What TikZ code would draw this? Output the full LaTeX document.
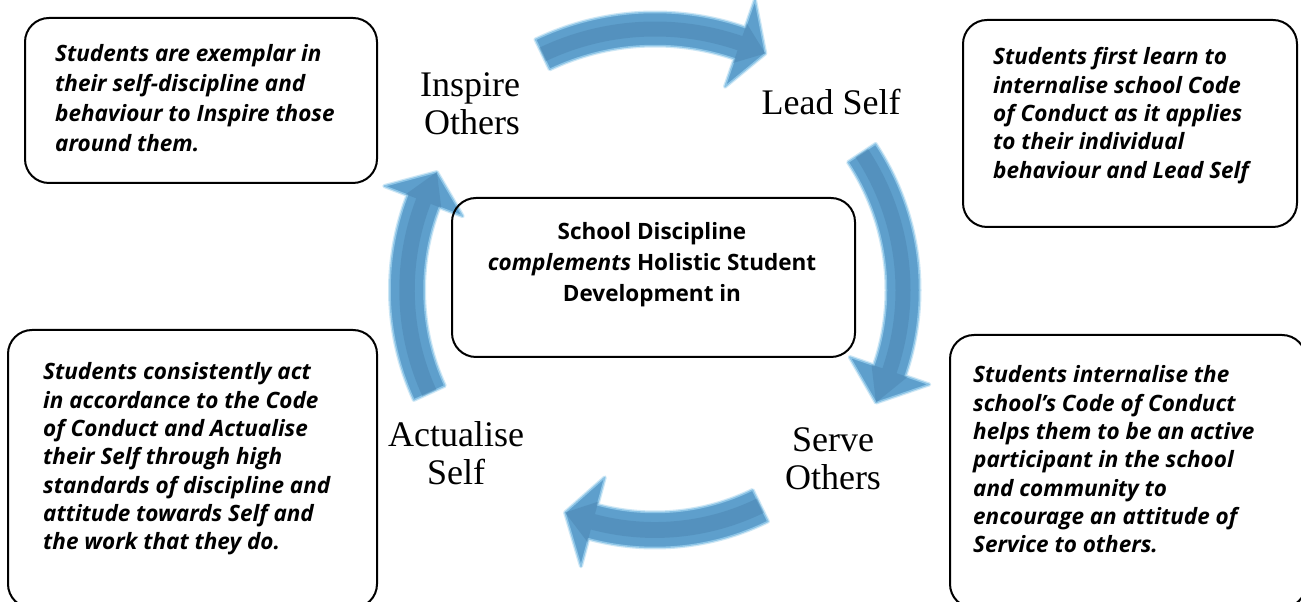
\documentclass[tikz,border=0pt]{standalone}
\usepackage{fontspec}
\setmainfont{Liberation Serif}
\newfontfamily\boxfont{Open Sans}
\definecolor{arrowbody}{HTML}{5E9FCC}
\definecolor{arrowedge}{HTML}{8CC4E6}
\definecolor{arrowhalo}{HTML}{B9DDF2}
\definecolor{arrowcore}{HTML}{4A82AD}
\newcommand\cycarrow[7]{%
  \path[#7] ({#3}:{(#1+#2)*1pt}) arc[start angle={#3}, end angle={#4}, radius={(#1+#2)*1pt}]
    -- ({#4}:{(#1+#6)*1pt}) -- ({#5}:{#1*1pt}) -- ({#4}:{(#1-#6)*1pt})
    -- ({#4}:{(#1-#2)*1pt}) arc[start angle={#4}, end angle={#3}, radius={(#1-#2)*1pt}] -- cycle;}
\newcommand\fullarrow[6]{%
  \cycarrow{#1}{#2}{#3}{#4}{#5}{#6}{draw=arrowhalo, line width=4pt, line join=round, opacity=.7}
  \cycarrow{#1}{#2}{#3}{#4}{#5}{#6}{fill=arrowbody, draw=arrowedge, line width=1.5pt, line join=round}
  \cycarrow{#1}{#2/2.2}{#3}{#4}{#5}{#6/2.2}{fill=arrowcore, opacity=.45}}
\tikzset{
  txtbox/.style={draw, line width=2pt, rounded corners=24pt},
  lbl/.style={anchor=base, inner sep=0pt, font=\fontsize{36}{38}\selectfont},
  btxt/.style={anchor=base west, inner sep=0pt, font=\boxfont\bfseries\itshape\fontsize{22.5}{28}\selectfont},
  ctxt/.style={anchor=base, inner sep=0pt, font=\boxfont\bfseries\fontsize{22.5}{31}\selectfont}
}
\begin{document}
\begin{tikzpicture}[x=1pt,y=1pt]
\useasboundingbox (0,0) rectangle (1301,602);
\clip (0,0) rectangle (1301,602);
\fill[white] (0,0) rectangle (1301,602);
% arrows
\begin{scope}[shift={(655,312)}]
  \fullarrow{261}{16.5}{115.5}{71}{65}{46}
  \fullarrow{248}{16.5}{33.5}{-19}{-27}{42}
  \fullarrow{240}{17.5}{-64}{-105}{-112}{46}
  \fullarrow{248}{17}{-155.5}{-201}{-208.4}{42}
\end{scope}
% boxes
\draw[txtbox] (25,584) rectangle (377,419);
\draw[txtbox] (963,582) rectangle (1297,375);
\draw[txtbox] (452,404) rectangle (855,245);
\draw[txtbox] (8,272) rectangle (377,-6);
\draw[txtbox] (950,267) rectangle (1306,-6);
\node[draw=none, inner sep=0pt] (tlbox) at (201,501) {};
\node[draw=none, inner sep=0pt] (trbox) at (1130,478) {};
\node[draw=none, inner sep=0pt] (cbox) at (653,324) {};
\node[draw=none, inner sep=0pt] (blbox) at (192,133) {};
\node[draw=none, inner sep=0pt] (brbox) at (1128,130) {};
% box texts
\foreach \t [count=\i] in {Students are exemplar in, their self-discipline and, behaviour to Inspire those, around them.}
  \node[btxt] (tl\i) at (55,{570-30*\i}) {\t};
\foreach \t [count=\i] in {Students first learn to, internalise school Code, of Conduct as it applies, to their individual, behaviour and Lead Self}
  \node[btxt] (tr\i) at (993,{565.3-28.3*\i}) {\t};
\foreach \t [count=\i] in {Students consistently act, in accordance to the Code, of Conduct and Actualise, their Self through high, standards of discipline and, attitude towards Self and, the work that they do.}
  \node[btxt] (bl\i) at (43,{250.3-28.3*\i}) {\t};
\foreach \t [count=\i] in {Students internalise the, school’s Code of Conduct, helps them to be an active, participant in the school, and community to, encourage an attitude of, Service to others.}
  \node[btxt] (br\i) at (973,{247.3-28.3*\i}) {\t};
% centre
\node[ctxt] (c1) at (652,362) {School Discipline};
\node[ctxt] (c2) at (652,331) {\itshape complements\upshape{} Holistic Student};
\node[ctxt] (c3) at (652,300) {Development in};
% labels
\node[lbl] (insp1) at (470,505) {Inspire};
\node[lbl] (insp2) at (472,467) {Others};
\node[lbl] (lead) at (831,487) {Lead Self};
\node[lbl] (act1) at (456,155) {Actualise};
\node[lbl] (act2) at (456,117) {Self};
\node[lbl] (serv1) at (833,150) {Serve};
\node[lbl] (serv2) at (833,112) {Others};
\end{tikzpicture}
\end{document}
